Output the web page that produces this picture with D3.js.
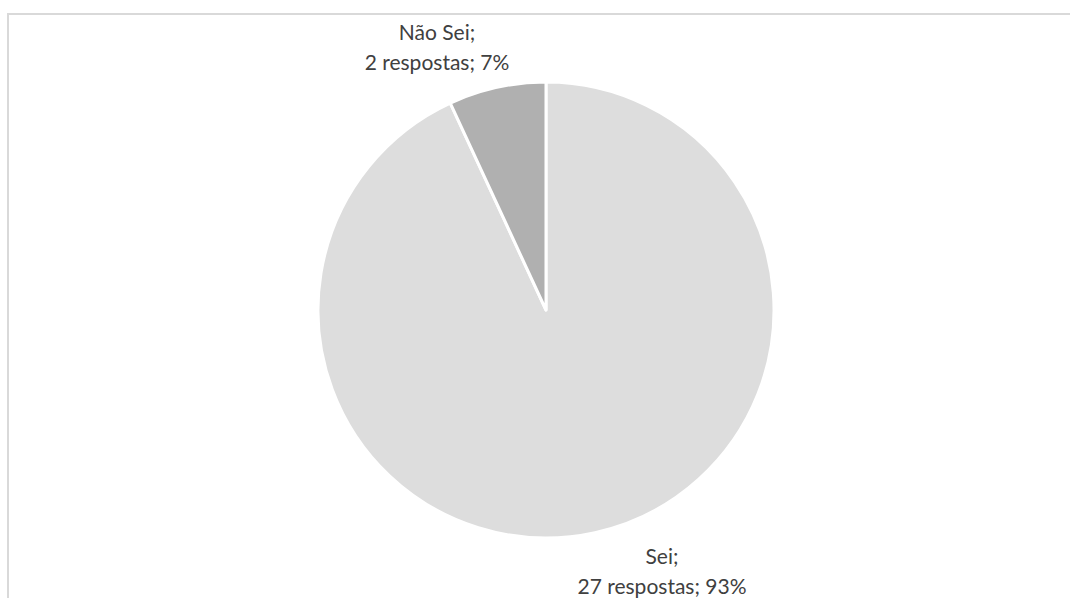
<!DOCTYPE html>
<html>
<head>
<meta charset="utf-8">
<script src="https://cdn.jsdelivr.net/npm/d3@7"></script>
<style>
  body { margin: 0; background: #fff; }
  text { font-family: 'Lato', 'Open Sans', sans-serif; fill: #404040; }
</style>
</head>
<body>
<div id="chart"></div>
<script>
// Chart data
const categories = ['Sei', 'Não Sei'];
const counts = [27, 2];
const percents = ['93%', '7%'];
const colors = ['#dddddd', '#b0b0b0'];

const svgWidth = 1070, svgHeight = 598;
const cx = 546, cy = 310, radius = 228;

const svg = d3.select('#chart')
  .append('svg')
  .attr('width', svgWidth)
  .attr('height', svgHeight);

// Chart frame (left and top edges visible)
svg.append('rect')
  .attr('x', 8)
  .attr('y', 14)
  .attr('width', 1080)
  .attr('height', 620)
  .attr('fill', 'none')
  .attr('stroke', '#d9d9d9')
  .attr('stroke-width', 2);

const pie = d3.pie().sort(null).value(d => d);
const arcs = pie(counts);
const arc = d3.arc().innerRadius(0).outerRadius(radius);

const g = svg.append('g').attr('transform', `translate(${cx}, ${cy})`);

g.selectAll('path')
  .data(arcs)
  .enter()
  .append('path')
  .attr('d', arc)
  .attr('fill', (d, i) => colors[i])
  .attr('stroke', '#fff')
  .attr('stroke-width', 3)
  .attr('stroke-linejoin', 'round');

// Data labels placed outside the slices
const labelPos = [[662, 564], [437, 40]];
const lineGap = 29.5;

arcs.forEach((d, i) => {
  const t = svg.append('text')
    .attr('text-anchor', 'middle')
    .style('font-size', '21px');
  t.append('tspan')
    .attr('x', labelPos[i][0])
    .attr('y', labelPos[i][1])
    .text(categories[i] + ';');
  t.append('tspan')
    .attr('x', labelPos[i][0])
    .attr('y', labelPos[i][1] + lineGap)
    .text(`${counts[i]} respostas; ${percents[i]}`);
});
</script>
</body>
</html>
